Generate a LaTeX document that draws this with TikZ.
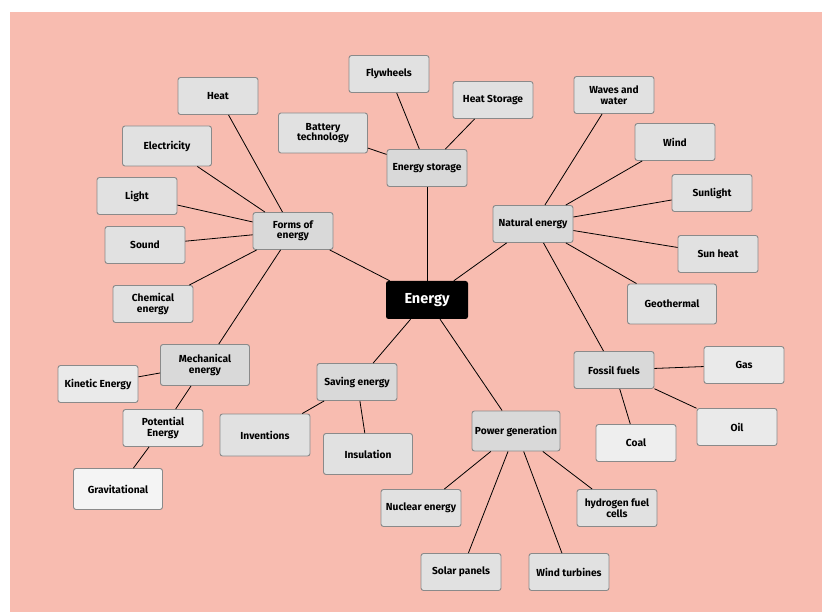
\documentclass[tikz,border=0pt]{standalone}
\usepackage{fontspec}
\setmainfont{Fira Sans}
\definecolor{bgpink}{HTML}{F8BCB0}
\definecolor{boxline}{HTML}{8A8A8A}
\definecolor{hubfill}{HTML}{D9D9D9}
\definecolor{leaffill}{HTML}{E1E1E1}
\definecolor{leaflight}{HTML}{EAEAEA}
\definecolor{leafpale}{HTML}{F4F4F4}
\definecolor{coalfill}{HTML}{EEEEEE}
\tikzset{
  box/.style={draw=boxline, line width=0.9pt, rounded corners=2.5pt, fill=leaffill,
    align=center, inner sep=2pt, minimum width=80pt, minimum height=37pt,
    font=\fontsize{10.2}{10.5}\selectfont\bfseries},
  hub/.style={box, fill=hubfill},
  lite/.style={box, fill=leaflight},
  pale/.style={box, fill=leafpale},
  link/.style={draw=black, line width=0.8pt},
}
\begin{document}
\begin{tikzpicture}[x=1pt,y=-1pt]
\useasboundingbox (0,0) rectangle (822,612);
\fill[white] (0,0) rectangle (822,612);
\fill[bgpink] (10,12) rectangle (822,612);

% centre
\node[fill=black, rounded corners=2.5pt, minimum width=82pt, minimum height=38pt,
  text=white, font=\fontsize{14.5}{16}\selectfont\bfseries] (energy) at (427,300) {Energy};

% hubs
\node[hub] (forms) at (293,231) {Forms of\\energy};
\node[hub] (storage) at (427,168) {Energy storage};
\node[hub] (natural) at (533,224) {Natural energy};
\node[hub] (saving) at (357,382) {Saving energy};
\node[hub, minimum width=88pt, minimum height=40pt] (power) at (516,431) {Power generation};
\node[hub, minimum width=89pt, minimum height=41pt] (mech) at (205,365) {Mechanical\\energy};
\node[hub] (fossil) at (614,370) {Fossil fuels};

% forms of energy leaves
\node[box] (heat) at (218,96) {Heat};
\node[box, minimum width=89pt, minimum height=40pt] (elec) at (167,146) {Electricity};
\node[box] (light) at (137,196) {Light};
\node[box] (sound) at (145,245) {Sound};
\node[box] (chem) at (153,304) {Chemical\\energy};
\node[lite] (kinetic) at (98,384) {Kinetic Energy};
\node[lite] (potential) at (163,428) {Potential\\Energy};
\node[pale, minimum width=89pt, minimum height=41pt] (grav) at (118,489) {Gravitational};

% storage leaves
\node[box, minimum width=89pt, minimum height=40pt] (battery) at (323,133) {Battery\\technology};
\node[box] (fly) at (389,74) {Flywheels};
\node[box] (heatst) at (493,100) {Heat Storage};

% natural leaves
\node[box] (waves) at (614,95) {Waves and\\water};
\node[box] (wind) at (675,142) {Wind};
\node[box] (sun) at (712,193) {Sunlight};
\node[box] (sunheat) at (718,254) {Sun heat};
\node[box, minimum width=89pt, minimum height=40pt] (geo) at (672,304) {Geothermal};

% fossil leaves
\node[lite] (gas) at (744,365) {Gas};
\node[lite] (oil) at (737,427) {Oil};
\node[box, fill=coalfill] (coal) at (636,443) {Coal};

% saving leaves
\node[box, minimum width=90pt, minimum height=42pt] (invent) at (265,435) {Inventions};
\node[box, minimum width=89pt, minimum height=41pt] (insul) at (368,454) {Insulation};

% power leaves
\node[box] (nuclear) at (421,508) {Nuclear energy};
\node[box] (hydro) at (617,508) {hydrogen fuel\\cells};
\node[box] (solar) at (461,572) {Solar panels};
\node[box] (windt) at (569,572) {Wind turbines};

% connectors
\foreach \a/\b in {energy/forms, energy/storage, energy/natural, energy/saving, energy/power,
  forms/heat, forms/elec, forms/light, forms/sound, forms/chem, forms/mech,
  mech/kinetic, mech/potential, potential/grav,
  storage/battery, storage/fly, storage/heatst,
  natural/waves, natural/wind, natural/sun, natural/sunheat, natural/geo, natural/fossil,
  fossil/gas, fossil/oil, fossil/coal,
  saving/invent, saving/insul,
  power/nuclear, power/hydro, power/solar, power/windt}
  \draw[link] (\a) -- (\b);
\end{tikzpicture}
\end{document}
